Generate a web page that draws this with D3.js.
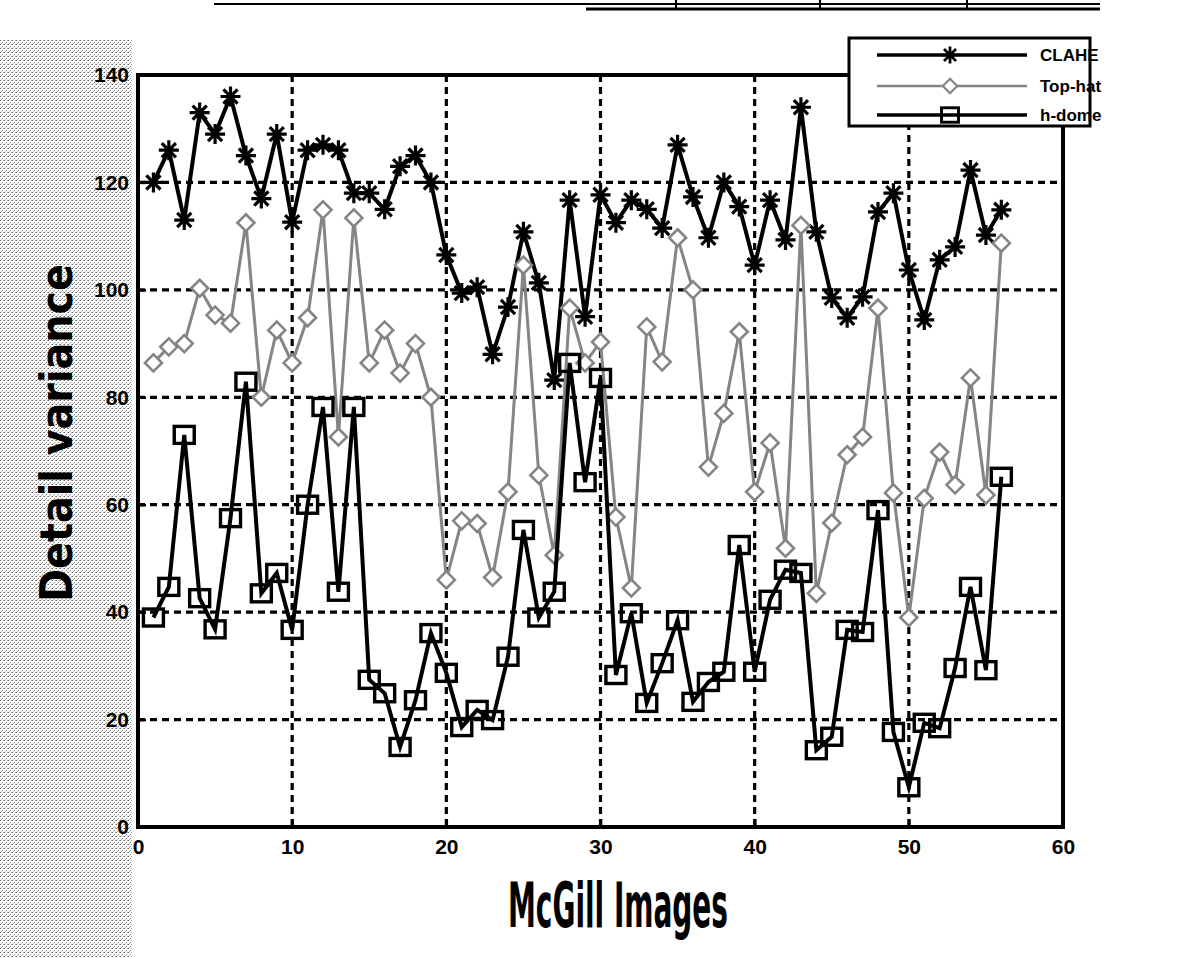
<!DOCTYPE html>
<html>
<head>
<meta charset="utf-8">
<script src="https://cdn.jsdelivr.net/npm/d3@7"></script>
<style>
  body { margin: 0; background: #fff; }
  svg { display: block; }
</style>
</head>
<body>
<div id="chart"></div>
<script>
var width = 1190;
var height = 958;

// image index 1..56
var images = d3.range(1, 57);

var clahe = [120, 126, 113, 133, 129, 136, 125, 117, 129, 112.6,
  126, 127, 126, 118, 118, 115, 123, 125, 120, 106.5,
  99.4, 100.5, 88, 96.8, 110.8, 101.3, 83.2, 116.7, 95, 117.7,
  112.5, 116.7, 115, 111.5, 127, 117.3, 109.7, 120, 115.5, 104.6,
  116.7, 109.3, 134, 110.8, 98.5, 94.8, 98.7, 114.5, 118, 103.7,
  94.4, 105.6, 108, 122.3, 110.2, 114.9];

var tophat = [86.4, 89.4, 90, 100.3, 95.3, 93.8, 112.5, 80, 92.5, 86.4,
  94.8, 114.9, 72.6, 113.4, 86.4, 92.5, 84.5, 90, 80, 46,
  57, 56.5, 46.5, 62.4, 104.6, 65.5, 50.6, 96.6, 86.4, 90.3,
  57.7, 44.5, 93.1, 86.6, 109.7, 100, 67, 77, 92.2, 62.4,
  71.5, 51.9, 112, 43.5, 56.6, 69.3, 72.6, 96.6, 62.2, 39,
  61.2, 69.8, 63.7, 83.6, 61.8, 108.7];

var hdome = [39, 44.7, 73, 42.6, 36.8, 57.5, 82.9, 43.5, 47.3, 36.7,
  60, 78.2, 43.8, 78.2, 27.4, 24.9, 14.9, 23.6, 36.1, 28.7,
  18.6, 21.8, 19.9, 31.7, 55.3, 39, 43.8, 86.4, 64.2, 83.6,
  28.3, 39.8, 23.1, 30.5, 38.5, 23.3, 27, 28.9, 52.5, 28.9,
  42.3, 47.9, 47.3, 14.3, 16.8, 36.7, 36.3, 59, 17.7, 7.4,
  19.4, 18.4, 29.6, 44.7, 29.2, 65.2];

var seriesNames = ["CLAHE", "Top-hat", "h-dome"];
var xTicks = [0, 10, 20, 30, 40, 50, 60];
var yTicks = [0, 20, 40, 60, 80, 100, 120, 140];

var svg = d3.select("#chart").append("svg")
    .attr("width", width)
    .attr("height", height)
    .style("font-family", "'Liberation Sans', Arial, sans-serif");

// halftone-ish grey on the scanned left margin
var defs = svg.append("defs");
var pat = defs.append("pattern")
    .attr("id", "dither")
    .attr("width", 4).attr("height", 4)
    .attr("patternUnits", "userSpaceOnUse");
pat.append("rect").attr("width", 4).attr("height", 4).attr("fill", "#fff");
pat.append("rect").attr("x", 0).attr("y", 0).attr("width", 1).attr("height", 1).attr("fill", "#666");
pat.append("rect").attr("x", 2).attr("y", 2).attr("width", 1).attr("height", 1).attr("fill", "#888");
pat.append("rect").attr("x", 3).attr("y", 0).attr("width", 1).attr("height", 1).attr("fill", "#aaa");
pat.append("rect").attr("x", 1).attr("y", 3).attr("width", 1).attr("height", 1).attr("fill", "#bbb");

svg.append("rect").attr("x", 0).attr("y", 40).attr("width", 132).attr("height", 918)
    .attr("fill", "url(#dither)");

var x = d3.scaleLinear().domain([0, 60]).range([138, 1063]);
var y = d3.scaleLinear().domain([0, 140]).range([827, 75]);

// remnant of a table at the top of the scanned page
var tableTop = svg.append("g").attr("stroke", "#000");
tableTop.append("line").attr("x1", 214).attr("x2", 1100).attr("y1", 4).attr("y2", 4).attr("stroke-width", 2);
tableTop.append("line").attr("x1", 586).attr("x2", 1100).attr("y1", 9).attr("y2", 9).attr("stroke-width", 3);
[676, 820, 967].forEach(function(px) {
  tableTop.append("line").attr("x1", px).attr("x2", px).attr("y1", 0).attr("y2", 10).attr("stroke-width", 2);
});

// plot background
svg.append("rect")
    .attr("x", x(0)).attr("y", y(140))
    .attr("width", x(60) - x(0)).attr("height", y(0) - y(140))
    .attr("fill", "#fff");

// grid
var grid = svg.append("g")
    .attr("stroke", "#000")
    .attr("stroke-width", 3.2)
    .attr("stroke-dasharray", "7,5");

grid.selectAll(".gx")
    .data(xTicks.filter(function(d) { return d > 0 && d < 60; }))
    .enter().append("line")
    .attr("x1", function(d) { return x(d); })
    .attr("x2", function(d) { return x(d); })
    .attr("y1", y(140)).attr("y2", y(0));

grid.selectAll(".gy")
    .data(yTicks.filter(function(d) { return d > 0 && d < 140; }))
    .enter().append("line")
    .attr("y1", function(d) { return y(d); })
    .attr("y2", function(d) { return y(d); })
    .attr("x1", x(0)).attr("x2", x(60));

// axes with inward ticks
var xAxis = svg.append("g")
    .attr("transform", "translate(0," + y(0) + ")")
    .call(d3.axisBottom(x).tickValues(xTicks).tickSizeInner(-8).tickSizeOuter(0).tickPadding(12));
var yAxis = svg.append("g")
    .attr("transform", "translate(" + x(0) + ",0)")
    .call(d3.axisLeft(y).tickValues(yTicks).tickSizeInner(-8).tickSizeOuter(0).tickPadding(9));

[xAxis, yAxis].forEach(function(ax) {
  ax.select(".domain").remove();
  ax.selectAll(".tick line").attr("stroke", "#000").attr("stroke-width", 2.5);
  ax.selectAll(".tick text")
      .attr("fill", "#000")
      .style("font-size", "21px")
      .style("font-weight", "bold")
      .style("font-family", "'Liberation Sans', Arial, sans-serif");
});

// frame
svg.append("rect")
    .attr("x", x(0)).attr("y", y(140))
    .attr("width", x(60) - x(0)).attr("height", y(0) - y(140))
    .attr("fill", "none")
    .attr("stroke", "#000")
    .attr("stroke-width", 4);

// markers
function starPath(r) {
  var p = d3.path();
  for (var k = 0; k < 4; k++) {
    var a = k * Math.PI / 4;
    p.moveTo(-r * Math.cos(a), -r * Math.sin(a));
    p.lineTo(r * Math.cos(a), r * Math.sin(a));
  }
  return p.toString();
}
function diamondPath(r) {
  return "M0," + (-r) + "L" + r + ",0L0," + r + "L" + (-r) + ",0Z";
}

var line = d3.line()
    .x(function(d) { return x(d[0]); })
    .y(function(d) { return y(d[1]); });

function pairs(vals) {
  return images.map(function(v, i) { return [v, vals[i]]; });
}

var styles = [
  { name: seriesNames[0], vals: clahe, color: "#000", width: 4, marker: "star" },
  { name: seriesNames[1], vals: tophat, color: "#858585", width: 3, marker: "diamond" },
  { name: seriesNames[2], vals: hdome, color: "#000", width: 4, marker: "square" }
];

function drawMarker(g, s) {
  if (s.marker === "star") {
    g.append("path").attr("d", starPath(10))
        .attr("stroke", s.color).attr("stroke-width", 3.2).attr("fill", "none");
  } else if (s.marker === "diamond") {
    g.append("path").attr("d", diamondPath(8.5))
        .attr("stroke", s.color).attr("stroke-width", 2.6).attr("fill", "#fff");
  } else {
    g.append("rect").attr("x", -10).attr("y", -8.5).attr("width", 20).attr("height", 17)
        .attr("stroke", s.color).attr("stroke-width", 3.4).attr("fill", "none");
  }
}

styles.forEach(function(s) {
  var data = pairs(s.vals);
  svg.append("path")
      .datum(data)
      .attr("d", line)
      .attr("fill", "none")
      .attr("stroke", s.color)
      .attr("stroke-width", s.width)
      .attr("stroke-linejoin", "miter");

  svg.append("g").selectAll("g")
      .data(data)
      .enter().append("g")
      .attr("transform", function(d) { return "translate(" + x(d[0]) + "," + y(d[1]) + ")"; })
      .each(function() { drawMarker(d3.select(this), s); });
});

// legend
var legend = svg.append("g");
legend.append("rect")
    .attr("x", 849).attr("y", 38)
    .attr("width", 241).attr("height", 88)
    .attr("fill", "#fff")
    .attr("stroke", "#000")
    .attr("stroke-width", 3);

var rowY = [55, 86, 115];
styles.forEach(function(s, i) {
  var g = legend.append("g");
  g.append("line")
      .attr("x1", 877).attr("x2", 1027)
      .attr("y1", rowY[i]).attr("y2", rowY[i])
      .attr("stroke", s.color)
      .attr("stroke-width", s.width - 0.5);
  var m = g.append("g").attr("transform", "translate(950," + rowY[i] + ") scale(0.85)");
  drawMarker(m, s);
  g.append("text")
      .attr("x", 1040).attr("y", rowY[i] + 6)
      .style("font-size", "17px")
      .style("font-weight", "bold")
      .text(s.name);
});

// axis titles (condensed display face)
svg.append("text")
    .attr("x", 508).attr("y", 927)
    .attr("textLength", 220)
    .attr("lengthAdjust", "spacingAndGlyphs")
    .style("font-family", "'DejaVu Sans Condensed', 'DejaVu Sans', sans-serif")
    .style("font-stretch", "condensed")
    .style("font-size", "62px")
    .style("font-weight", "bold")
    .text("McGill Images");

svg.append("text")
    .attr("transform", "translate(72,602) rotate(-90)")
    .attr("textLength", 338)
    .attr("lengthAdjust", "spacingAndGlyphs")
    .style("font-family", "'DejaVu Sans Condensed', 'DejaVu Sans', sans-serif")
    .style("font-stretch", "condensed")
    .style("font-size", "44px")
    .style("font-weight", "bold")
    .text("Detail variance");
</script>
</body>
</html>
